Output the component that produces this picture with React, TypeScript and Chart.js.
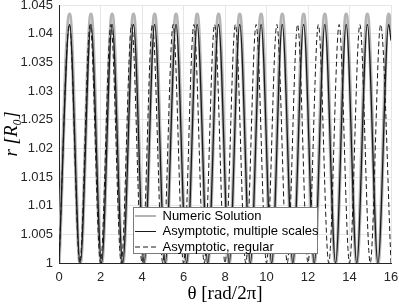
import { useEffect, useRef } from "react";
import { Chart, registerables } from "chart.js";

Chart.register(...registerables);

const X_TICKS = [0, 2, 4, 6, 8, 10, 12, 14, 16];
const Y_TICKS = [1, 1.005, 1.01, 1.015, 1.02, 1.025, 1.03, 1.035, 1.04, 1.045];
const SERIES_LABELS = ["Numeric Solution", "Asymptotic, multiple scales", "Asymptotic, regular"];

// turning points (troughs / crests)
const NUMERIC_THETA = [0, 0.51, 1.02, 1.54, 2.05, 2.56, 3.07, 3.59, 4.1, 4.61, 5.12, 5.64, 6.15, 6.66, 7.17, 7.69, 8.2, 8.71, 9.22, 9.74, 10.25, 10.76, 11.27, 11.79, 12.3, 12.81, 13.33, 13.84, 14.35, 14.86, 15.37, 15.89, 16];
const NUMERIC_R = [1, 1.0434, 1, 1.0434, 1, 1.0434, 1, 1.0434, 1, 1.0434, 1, 1.0434, 1, 1.0434, 1, 1.0434, 1, 1.0434, 1, 1.0434, 1, 1.0434, 1, 1.0434, 1, 1.0434, 1, 1.0434, 1, 1.0434, 1, 1.0434, 1.0405];

const MULTI_THETA = [0, 0.51, 1.02, 1.54, 2.05, 2.56, 3.07, 3.59, 4.1, 4.61, 5.12, 5.64, 6.15, 6.66, 7.17, 7.69, 8.2, 8.71, 9.22, 9.74, 10.25, 10.76, 11.27, 11.79, 12.3, 12.81, 13.33, 13.84, 14.35, 14.86, 15.37, 15.89, 16];
const MULTI_R = [1, 1.0416, 1, 1.0416, 1, 1.0416, 1, 1.0416, 1, 1.0416, 1, 1.0416, 1, 1.0416, 1, 1.0416, 1, 1.0416, 1, 1.0416, 1, 1.0416, 1, 1.0416, 1, 1.0416, 1, 1.0416, 1, 1.0416, 1, 1.0416, 1.0388];

const REGULAR_THETA = [0, 0.5, 1, 1.5, 2, 2.5, 3, 3.5, 4, 4.5, 5, 5.5, 6, 6.5, 7, 7.5, 8, 8.5, 9, 9.5, 10, 10.5, 11, 11.5, 12, 12.5, 13, 13.5, 14, 14.5, 15, 15.5, 16];
const REGULAR_R = [1, 1.0416, 1, 1.0416, 1, 1.0416, 1, 1.0416, 1, 1.0416, 1, 1.0416, 1, 1.0416, 1, 1.0416, 1, 1.0416, 1, 1.0416, 1, 1.0416, 1, 1.0416, 1, 1.0416, 1, 1.0416, 1, 1.0416, 1, 1.0416, 1];

const pts = (xs: number[], ys: number[]) => xs.map((x, i) => ({ x, y: ys[i] }));

const AXIS_COLOR = "#262626";
const GRID_COLOR = "#e6e6e6";
const LEGEND_LINE_WIDTHS = [2, 1.1, 1.1];

const legendBoxPlugin = {
  id: "legendBox",
  beforeDraw(chart: any) {
    const lg = chart.legend;
    if (!lg) return;
    lg.left = 132.5;
    lg.top = 207;
    lg.right = 330;
    lg.bottom = 305;
  },
  afterDraw(chart: any) {
    const lg = chart.legend;
    if (!lg) return;
    const ctx = chart.ctx;
    ctx.save();
    ctx.fillStyle = "#ffffff";
    ctx.fillRect(133.5, 207.5, 184, 46);
    ctx.strokeStyle = "#7a7a7a";
    ctx.lineWidth = 1;
    ctx.strokeRect(133.5, 207.5, 184, 46);
    ctx.restore();
    lg.draw();
  },
};

export default function App() {
  const ref = useRef<HTMLCanvasElement | null>(null);

  useEffect(() => {
    document.body.style.margin = "0";
    if (!ref.current) return;
    const chart = new Chart(ref.current, {
      type: "line",
      data: {
        datasets: [
          {
            label: SERIES_LABELS[0],
            data: pts(NUMERIC_THETA, NUMERIC_R),
            borderColor: "#b4b4b4",
            borderWidth: 3.5,
            pointRadius: 0,
            cubicInterpolationMode: "monotone",
            borderCapStyle: "round",
            borderJoinStyle: "round",
            fill: false,
            order: 3,
          },
          {
            label: SERIES_LABELS[1],
            data: pts(MULTI_THETA, MULTI_R),
            borderColor: "#1a1a1a",
            borderWidth: 1.3,
            pointRadius: 0,
            cubicInterpolationMode: "monotone",
            fill: false,
            order: 2,
          },
          {
            label: SERIES_LABELS[2],
            data: pts(REGULAR_THETA, REGULAR_R),
            borderColor: "#1a1a1a",
            borderWidth: 1,
            borderDash: [5, 3],
            pointRadius: 0,
            cubicInterpolationMode: "monotone",
            fill: false,
            order: 1,
          },
        ],
      },
      options: {
        animation: false,
        responsive: false,
        maintainAspectRatio: false,
        layout: { padding: { left: 0, right: 8, top: 5, bottom: 0 } },
        plugins: {
          tooltip: { enabled: false },
          legend: {
            display: true,
            position: "chartArea",
            align: "start",
            labels: {
              font: { family: "'Liberation Sans', Arial, sans-serif", size: 13 },
              color: "#000000",
              padding: 2.5,
              usePointStyle: true,
              pointStyle: "line",
              pointStyleWidth: 21,
              sort: (a: any, b: any) => a.datasetIndex - b.datasetIndex,
              generateLabels: (c: any) => {
                const base = (Chart.defaults.plugins.legend.labels as any).generateLabels(c);
                return base.map((item: any) => {
                  const ds = c.data.datasets[item.datasetIndex];
                  return {
                    ...item,
                    strokeStyle: ds.borderColor,
                    lineWidth: LEGEND_LINE_WIDTHS[item.datasetIndex],
                    lineDash: ds.borderDash || [],
                    lineCap: "butt",
                    pointStyle: "line",
                  };
                });
              },
            },
          },
        },
        scales: {
          x: {
            type: "linear",
            min: 0,
            max: 16,
            afterBuildTicks: (scale: any) => {
              scale.ticks = X_TICKS.map((v) => ({ value: v }));
            },
            afterFit: (scale: any) => {
              scale.height = 42;
              scale.paddingLeft = 0;
              scale.paddingRight = 0;
            },
            grid: { color: GRID_COLOR, drawTicks: false },
            border: { display: true, color: AXIS_COLOR, width: 1 },
            ticks: {
              padding: 7,
              color: AXIS_COLOR,
              font: { family: "'Liberation Sans', Arial, sans-serif", size: 13 },
              maxRotation: 0,
              callback: (v: any) => String(v),
            },
            title: {
              display: true,
              text: "θ [rad/2π]",
              color: "#000000",
              font: { family: "'Liberation Serif', 'Times New Roman', serif", size: 19 },
              padding: { top: 0, bottom: 0 },
            },
          },
          y: {
            type: "linear",
            min: 1,
            max: 1.045,
            afterBuildTicks: (scale: any) => {
              scale.ticks = Y_TICKS.map((v) => ({ value: v }));
            },
            afterFit: (scale: any) => {
              scale.width = 59;
              scale.paddingTop = 0;
              scale.paddingBottom = 0;
            },
            grid: { color: GRID_COLOR, drawTicks: false },
            border: { display: true, color: AXIS_COLOR, width: 1 },
            ticks: {
              padding: 6,
              color: AXIS_COLOR,
              font: { family: "'Liberation Sans', Arial, sans-serif", size: 13 },
              callback: (v: any) => String(Number(Number(v).toFixed(3))),
            },
            title: {
              display: true,
              text: "r [R₀]",
              color: "#000000",
              font: { family: "'Liberation Serif', 'Times New Roman', serif", size: 19, style: "italic" },
              padding: { top: 1, bottom: 0 },
            },
          },
        },
      },
      plugins: [legendBoxPlugin],
    } as any);
    return () => chart.destroy();
  }, []);

  return (
    <div style={{ width: 399, height: 305 }}>
      <canvas ref={ref} width={399} height={305} style={{ display: "block" }} />
    </div>
  );
}
